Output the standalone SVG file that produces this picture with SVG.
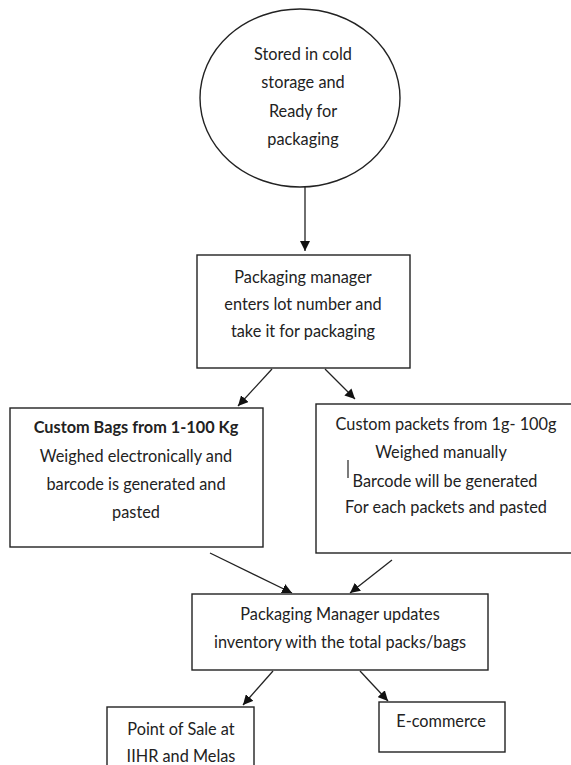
<svg xmlns="http://www.w3.org/2000/svg" width="571" height="765" viewBox="0 0 571 765">
  <defs>
    <marker id="arrow" viewBox="0 0 10 10" refX="10" refY="5" markerWidth="10" markerHeight="10" markerUnits="userSpaceOnUse" orient="auto">
      <path d="M0,0 L10,5 L0,10 z" fill="#111"/>
    </marker>
    <style>
      .shape { fill: #fff; stroke: #222; stroke-width: 1.4; }
      .txt { font-family: Lato, "Liberation Sans", sans-serif; font-size: 16.3px; fill: #222; text-anchor: middle; }
      .bold { font-weight: bold; }
      .conn { stroke: #222; stroke-width: 1.3; fill: none; marker-end: url(#arrow); }
    </style>
  </defs>
  <rect width="571" height="765" fill="#fff"/>

  <g id="connectors">
    <line class="conn" x1="305" y1="187" x2="305" y2="251"/>
    <line class="conn" x1="272" y1="369" x2="238" y2="406"/>
    <line class="conn" x1="325" y1="369" x2="355" y2="399"/>
    <line class="conn" x1="210" y1="553" x2="292" y2="593"/>
    <line class="conn" x1="392" y1="560" x2="350" y2="593"/>
    <line class="conn" x1="273" y1="671" x2="243" y2="705"/>
    <line class="conn" x1="360" y1="671" x2="388" y2="701"/>
  </g>

  <g id="cold-storage">
    <ellipse class="shape" cx="300" cy="98" rx="100" ry="89"/>
    <text class="txt" x="303" y="60">Stored in cold</text>
    <text class="txt" x="303" y="88">storage and</text>
    <text class="txt" x="303" y="117">Ready for</text>
    <text class="txt" x="303" y="145">packaging</text>
  </g>

  <g id="lot-entry">
    <rect class="shape" x="197" y="255" width="213" height="113"/>
    <text class="txt" x="303" y="283">Packaging manager</text>
    <text class="txt" x="303" y="310">enters lot number and</text>
    <text class="txt" x="303" y="337">take it for packaging</text>
  </g>

  <g id="custom-bags">
    <rect class="shape" x="10" y="408" width="253" height="139"/>
    <text class="txt bold" x="136" y="433">Custom Bags from 1-100 Kg</text>
    <text class="txt" x="136" y="462">Weighed electronically and</text>
    <text class="txt" x="136" y="490">barcode is generated and</text>
    <text class="txt" x="136" y="518">pasted</text>
  </g>

  <g id="custom-packets">
    <rect class="shape" x="316" y="404" width="270" height="149"/>
    <text class="txt" x="446" y="430">Custom packets from 1g- 100g</text>
    <text class="txt" x="441" y="458">Weighed manually</text>
    <line x1="348" y1="460" x2="348" y2="478" stroke="#222" stroke-width="1.2"/>
    <text class="txt" x="445" y="487">Barcode will be generated</text>
    <text class="txt" x="446" y="513">For each packets and pasted</text>
  </g>

  <g id="inventory-update">
    <rect class="shape" x="192" y="594" width="296" height="76"/>
    <text class="txt" x="340" y="620">Packaging Manager updates</text>
    <text class="txt" x="340" y="648">inventory with the total packs/bags</text>
  </g>

  <g id="point-of-sale">
    <rect class="shape" x="107" y="707" width="147" height="80"/>
    <text class="txt" x="181" y="735">Point of Sale at</text>
    <text class="txt" x="181" y="762">IIHR and Melas</text>
  </g>

  <g id="e-commerce">
    <rect class="shape" x="379" y="702" width="126" height="50"/>
    <text class="txt" x="441" y="727">E-commerce</text>
  </g>
</svg>
